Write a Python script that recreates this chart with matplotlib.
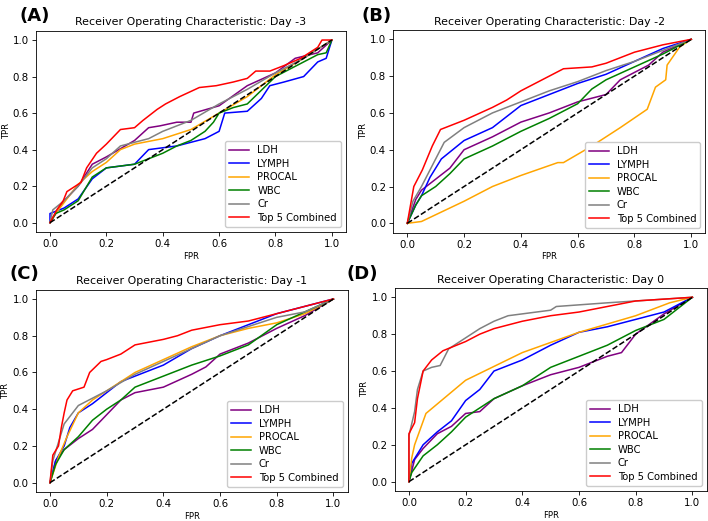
import matplotlib
matplotlib.use("Agg")
import matplotlib.pyplot as plt

# curve names / colours
names = ['LDH', 'LYMPH', 'PROCAL', 'WBC', 'Cr', 'Top 5 Combined']
colors = ['purple', 'blue', 'orange', 'green', 'gray', 'red']
titles = ['Receiver Operating Characteristic: Day -3',
          'Receiver Operating Characteristic: Day -2',
          'Receiver Operating Characteristic: Day -1',
          'Receiver Operating Characteristic: Day 0']
panel_tags = ['(A)', '(B)', '(C)', '(D)']

# ROC points (fpr, tpr)
# Day -3
d3_ldh = [(0, 0), (0.05, 0.12), (0.1, 0.2), (0.15, 0.32), (0.2, 0.36), (0.3, 0.45), (0.35, 0.52),
          (0.39, 0.53), (0.45, 0.55), (0.5, 0.55), (0.51, 0.6), (0.6, 0.64), (0.7, 0.75), (0.8, 0.82),
          (0.87, 0.9), (0.95, 0.93), (1, 1)]
d3_lymph = [(0, 0), (0, 0.05), (0.05, 0.08), (0.1, 0.13), (0.15, 0.24), (0.2, 0.3), (0.3, 0.32),
            (0.35, 0.4), (0.45, 0.42), (0.5, 0.44), (0.55, 0.46), (0.6, 0.5), (0.62, 0.6), (0.7, 0.61),
            (0.75, 0.68), (0.78, 0.75), (0.83, 0.77), (0.9, 0.8), (0.95, 0.88), (0.98, 0.9), (1, 1)]
d3_procal = [(0, 0), (0.02, 0.05), (0.1, 0.21), (0.15, 0.28), (0.2, 0.33), (0.25, 0.4), (0.3, 0.43),
             (0.4, 0.46), (0.5, 0.51), (0.6, 0.6), (0.7, 0.69), (0.8, 0.81), (0.9, 0.9), (1, 1)]
d3_wbc = [(0, 0), (0.02, 0.05), (0.05, 0.07), (0.1, 0.12), (0.15, 0.25), (0.2, 0.3), (0.3, 0.32),
          (0.4, 0.38), (0.45, 0.42), (0.5, 0.45), (0.55, 0.5), (0.58, 0.55), (0.6, 0.6), (0.65, 0.63),
          (0.7, 0.65), (0.8, 0.8), (0.9, 0.88), (0.95, 0.92), (0.98, 0.93), (1, 1)]
d3_cr = [(0, 0), (0.01, 0.07), (0.05, 0.12), (0.1, 0.2), (0.15, 0.3), (0.2, 0.35), (0.25, 0.42),
         (0.35, 0.46), (0.4, 0.5), (0.5, 0.56), (0.6, 0.65), (0.7, 0.73), (0.8, 0.82), (0.9, 0.9), (1, 1)]
d3_top5 = [(0, 0), (0.024, 0.07), (0.047, 0.12), (0.06, 0.17), (0.11, 0.22), (0.13, 0.3),
           (0.165, 0.38), (0.2, 0.43), (0.25, 0.51), (0.3, 0.52), (0.33, 0.56), (0.38, 0.62),
           (0.41, 0.65), (0.46, 0.69), (0.53, 0.74), (0.59, 0.75), (0.65, 0.77), (0.7, 0.79),
           (0.73, 0.83), (0.78, 0.83), (0.83, 0.86), (0.89, 0.9), (0.95, 0.96), (0.965, 1.0), (1, 1)]

# Day -2
d2_ldh = [(0, 0), (0.03, 0.13), (0.05, 0.18), (0.1, 0.24), (0.15, 0.3), (0.2, 0.4), (0.3, 0.47),
          (0.4, 0.55), (0.5, 0.6), (0.6, 0.66), (0.7, 0.7), (0.75, 0.78), (0.85, 0.86), (0.9, 0.93), (1, 1)]
d2_lymph = [(0, 0), (0.03, 0.1), (0.05, 0.15), (0.08, 0.25), (0.12, 0.35), (0.2, 0.45), (0.3, 0.52),
            (0.35, 0.58), (0.4, 0.64), (0.5, 0.7), (0.6, 0.76), (0.7, 0.81), (0.8, 0.88), (0.9, 0.95), (1, 1)]
d2_procal = [(0, 0), (0.05, 0.01), (0.2, 0.12), (0.3, 0.2), (0.4, 0.26), (0.53, 0.33), (0.55, 0.33),
             (0.65, 0.42), (0.75, 0.52), (0.845, 0.62), (0.874, 0.74), (0.91, 0.78), (0.915, 0.86),
             (0.96, 0.96), (1, 1)]
d2_wbc = [(0, 0), (0.03, 0.1), (0.05, 0.15), (0.1, 0.2), (0.15, 0.27), (0.2, 0.35), (0.3, 0.42),
          (0.4, 0.5), (0.5, 0.57), (0.6, 0.65), (0.65, 0.73), (0.7, 0.78), (0.8, 0.85), (0.9, 0.92), (1, 1)]
d2_cr = [(0, 0), (0.02, 0.12), (0.05, 0.2), (0.1, 0.35), (0.13, 0.44), (0.2, 0.52), (0.3, 0.6),
         (0.4, 0.66), (0.5, 0.72), (0.6, 0.77), (0.7, 0.83), (0.8, 0.88), (0.9, 0.94), (1, 1)]
d2_top5 = [(0, 0), (0.023, 0.2), (0.053, 0.29), (0.088, 0.42), (0.117, 0.51), (0.2, 0.56), (0.3, 0.63),
           (0.35, 0.67), (0.4, 0.72), (0.45, 0.76), (0.5, 0.8), (0.55, 0.84), (0.65, 0.85), (0.7, 0.87),
           (0.8, 0.93), (0.9, 0.97), (1, 1)]

# Day -1
d1_ldh = [(0, 0), (0.02, 0.12), (0.05, 0.18), (0.1, 0.24), (0.15, 0.29), (0.2, 0.37), (0.25, 0.45),
          (0.3, 0.49), (0.4, 0.52), (0.5, 0.59), (0.55, 0.63), (0.6, 0.7), (0.7, 0.76), (0.8, 0.84),
          (0.9, 0.91), (1, 1)]
d1_lymph = [(0, 0), (0.02, 0.12), (0.05, 0.2), (0.07, 0.3), (0.1, 0.38), (0.15, 0.43), (0.2, 0.49),
            (0.25, 0.55), (0.3, 0.58), (0.4, 0.64), (0.5, 0.73), (0.6, 0.8), (0.7, 0.86), (0.8, 0.92),
            (0.9, 0.96), (1, 1)]
d1_procal = [(0, 0), (0.03, 0.14), (0.06, 0.25), (0.1, 0.38), (0.15, 0.45), (0.2, 0.5), (0.3, 0.6),
             (0.4, 0.67), (0.5, 0.74), (0.6, 0.8), (0.7, 0.84), (0.8, 0.87), (0.9, 0.92), (1, 1)]
d1_wbc = [(0, 0), (0.02, 0.1), (0.05, 0.18), (0.1, 0.25), (0.15, 0.34), (0.2, 0.4), (0.25, 0.45),
          (0.3, 0.52), (0.4, 0.58), (0.5, 0.64), (0.6, 0.69), (0.7, 0.75), (0.8, 0.86), (0.9, 0.93), (1, 1)]
d1_cr = [(0, 0), (0.01, 0.12), (0.03, 0.22), (0.05, 0.32), (0.08, 0.38), (0.1, 0.42), (0.2, 0.5),
         (0.3, 0.59), (0.4, 0.66), (0.5, 0.73), (0.6, 0.8), (0.7, 0.85), (0.8, 0.9), (0.9, 0.93), (1, 1)]
d1_top5 = [(0, 0), (0.01, 0.15), (0.03, 0.2), (0.04, 0.3), (0.05, 0.38), (0.06, 0.45), (0.08, 0.5),
           (0.12, 0.52), (0.14, 0.6), (0.18, 0.66), (0.2, 0.67), (0.25, 0.7), (0.3, 0.75), (0.4, 0.78),
           (0.45, 0.8), (0.5, 0.83), (0.6, 0.86), (0.7, 0.88), (0.8, 0.92), (0.9, 0.96), (1, 1)]

# Day 0
d0_ldh = [(0, 0), (0.02, 0.12), (0.05, 0.18), (0.1, 0.26), (0.15, 0.3), (0.2, 0.37), (0.25, 0.38),
          (0.3, 0.45), (0.4, 0.52), (0.5, 0.58), (0.6, 0.62), (0.7, 0.68), (0.75, 0.7), (0.8, 0.8),
          (0.9, 0.91), (1, 1)]
d0_lymph = [(0, 0), (0.01, 0.1), (0.05, 0.2), (0.1, 0.27), (0.15, 0.33), (0.2, 0.44), (0.25, 0.5),
            (0.3, 0.6), (0.4, 0.66), (0.5, 0.74), (0.6, 0.81), (0.7, 0.84), (0.8, 0.88), (0.9, 0.92), (1, 1)]
d0_procal = [(0, 0), (0.01, 0.13), (0.02, 0.2), (0.06, 0.37), (0.2, 0.55), (0.4, 0.7), (0.6, 0.81),
             (0.8, 0.9), (0.92, 0.97), (1, 1)]
d0_wbc = [(0, 0), (0.01, 0.05), (0.05, 0.14), (0.1, 0.2), (0.15, 0.27), (0.2, 0.35), (0.3, 0.45),
          (0.4, 0.52), (0.5, 0.62), (0.6, 0.68), (0.7, 0.74), (0.8, 0.82), (0.9, 0.88), (1, 1)]
d0_cr = [(0, 0), (0, 0.25), (0.02, 0.38), (0.03, 0.5), (0.05, 0.6), (0.08, 0.62), (0.11, 0.63),
         (0.14, 0.72), (0.2, 0.78), (0.25, 0.83), (0.3, 0.87), (0.35, 0.9), (0.5, 0.93), (0.52, 0.95),
         (0.7, 0.97), (0.8, 0.98), (1, 1)]
d0_top5 = [(0, 0), (0, 0.26), (0.02, 0.32), (0.03, 0.45), (0.05, 0.6), (0.08, 0.66), (0.12, 0.71),
           (0.2, 0.76), (0.25, 0.8), (0.3, 0.83), (0.4, 0.87), (0.5, 0.9), (0.6, 0.92), (0.7, 0.95),
           (0.8, 0.98), (0.9, 0.99), (1, 1)]

days = [
    [d3_ldh, d3_lymph, d3_procal, d3_wbc, d3_cr, d3_top5],
    [d2_ldh, d2_lymph, d2_procal, d2_wbc, d2_cr, d2_top5],
    [d1_ldh, d1_lymph, d1_procal, d1_wbc, d1_cr, d1_top5],
    [d0_ldh, d0_lymph, d0_procal, d0_wbc, d0_cr, d0_top5],
]

# axes boxes in figure fractions
boxes = [[0.0507, 0.5551, 0.4379, 0.3856],
         [0.5552, 0.5537, 0.4412, 0.3885],
         [0.0506, 0.0559, 0.4403, 0.3879],
         [0.5576, 0.0578, 0.4403, 0.3893]]
tag_pos = [(0.028, 0.970), (0.511, 0.970), (0.014, 0.474), (0.490, 0.474)]

fig = plt.figure(figsize=(7.08, 5.21), dpi=100)

for k in range(4):
    ax = fig.add_axes(boxes[k])
    for curve, name, col in zip(days[k], names, colors):
        fpr = [p[0] for p in curve]
        tpr = [p[1] for p in curve]
        ax.plot(fpr, tpr, color=col, lw=1.1, label=name)
    ax.plot([0, 1], [0, 1], 'k--', lw=1.1)
    ax.set_xlim(-0.05, 1.05)
    ax.set_ylim(-0.05, 1.05)
    ax.set_xticks([0, 0.2, 0.4, 0.6, 0.8, 1.0])
    ax.set_yticks([0, 0.2, 0.4, 0.6, 0.8, 1.0])
    ax.tick_params(labelsize=7.4, length=2.6, width=0.6, pad=2.5)
    for sp in ax.spines.values():
        sp.set_linewidth(0.6)
    ax.set_title(titles[k], fontsize=7.9, pad=4)
    ax.set_xlabel('FPR', fontsize=6, labelpad=2)
    ax.set_ylabel('TPR', fontsize=6, labelpad=1.5)
    ax.legend(loc='lower right', fontsize=7.2, handlelength=2.0, borderpad=0.4,
              labelspacing=0.35, handletextpad=0.8, framealpha=1)
    fig.text(tag_pos[k][0], tag_pos[k][1], panel_tags[k], fontsize=13, fontweight='bold',
             va='center')

fig.savefig('out.png', dpi=100)
